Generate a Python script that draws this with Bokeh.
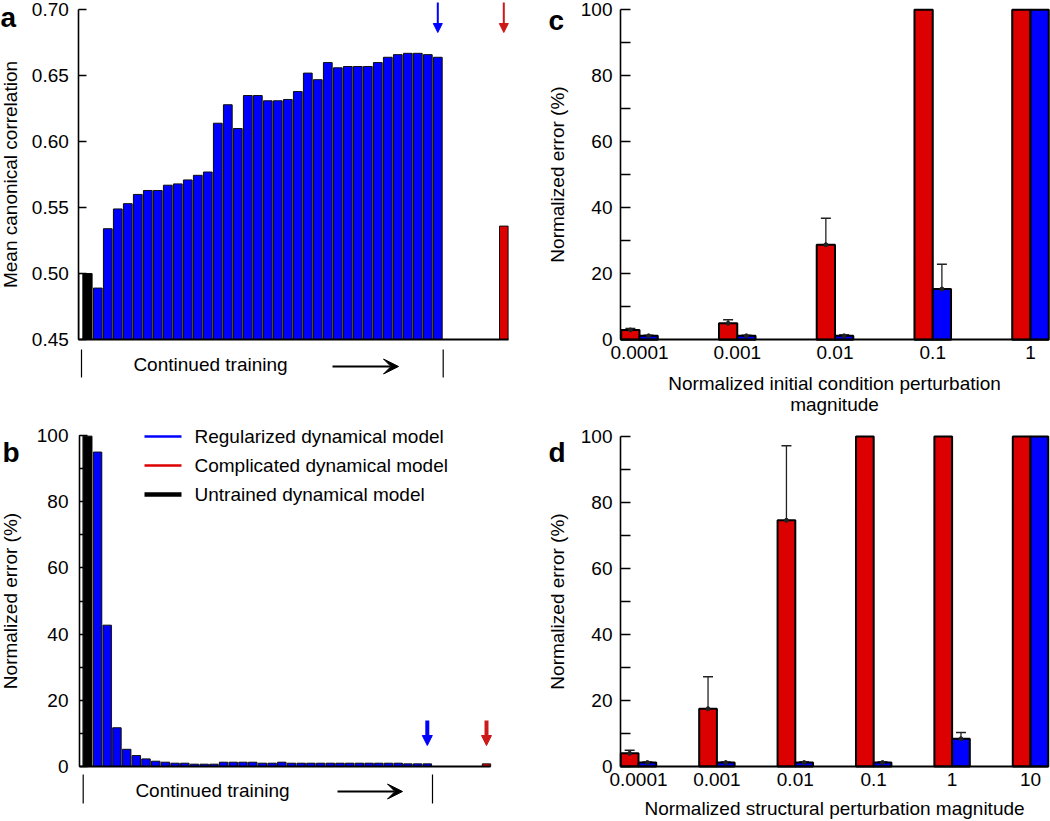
from bokeh.plotting import figure
from bokeh.layouts import row, column
from bokeh.models import (Range1d, FixedTicker, Arrow, NormalHead, VeeHead, Label,
                          ColumnDataSource, Whisker, TeeHead, NumeralTickFormatter)
from bokeh.embed import file_html
from bokeh.resources import INLINE

FONT = "Liberation Sans"
RED = "#dd0000"
BLUE = "#0000ff"
GAP = "#9a9a9a"

# ---------------- data ----------------
# panel a: mean canonical correlation during continued training
a_untrained = [0.500, 0.500]          # outline bar, filled bar
a_regularized = [0.489, 0.534, 0.549, 0.553, 0.560, 0.563, 0.563, 0.567, 0.568,
                 0.571, 0.5745, 0.577, 0.614, 0.628, 0.610, 0.635, 0.635, 0.631,
                 0.631, 0.632, 0.638, 0.652, 0.647, 0.660, 0.656, 0.657, 0.657,
                 0.657, 0.660, 0.664, 0.666, 0.667, 0.667, 0.666, 0.664]
a_complicated = [0.536]
a_ticks = [0.45, 0.50, 0.55, 0.60, 0.65, 0.70]

# panel b: normalized error (%) during continued training
b_untrained = [100.0, 99.8]
b_regularized = [95.0, 42.7, 11.7, 5.2, 3.3, 2.3, 1.6, 1.3, 1.0, 1.0,
                 0.7, 0.7, 0.7, 1.3, 1.3, 1.3, 1.3, 1.0, 1.0, 1.3,
                 1.0, 1.0, 1.0, 1.0, 1.0, 1.0, 1.0, 1.0, 1.0, 1.0,
                 1.0, 1.0, 0.8, 0.8, 0.8]
b_complicated = [0.8]
legend_labels = ["Regularized dynamical model", "Complicated dynamical model",
                 "Untrained dynamical model"]
err_ticks = [0, 20, 40, 60, 80, 100]
err_minor = [10, 30, 50, 70, 90]

# panel c: initial condition perturbation
c_labels = ["0.0001", "0.001", "0.01", "0.1", "1"]
c_complicated = [3.0, 5.0, 28.8, 100.0, 100.0]
c_complicated_err = [0.4, 1.1, 8.0, 0.0, 0.0]
c_regularized = [1.2, 1.2, 1.2, 15.4, 100.0]
c_regularized_err = [0.2, 0.2, 0.3, 7.5, 0.0]

# panel d: structural perturbation
d_labels = ["0.0001", "0.001", "0.01", "0.1", "1", "10"]
d_complicated = [4.0, 17.5, 74.6, 100.0, 100.0, 100.0]
d_complicated_err = [0.9, 9.7, 22.6, 0.0, 0.0, 0.0]
d_regularized = [1.2, 1.2, 1.2, 1.2, 8.4, 100.0]
d_regularized_err = [0.2, 0.2, 0.2, 0.2, 1.9, 0.0]

# ---------------- layout geometry (page pixels) ----------------
W_L, W_R = 530, 520
H_T, H_B = 420, 401


def mapper(ref_px, val, ppu, sign):
    return lambda px: val + sign * (px - ref_px) / ppu


def make_fig(w, h, X, Y, px0, py0):
    p = figure(width=w, height=h,
               x_range=Range1d(X(px0), X(px0 + w)), y_range=Range1d(Y(py0 + h), Y(py0)),
               output_backend="svg", toolbar_location=None,
               min_border_left=0, min_border_right=0, min_border_top=0, min_border_bottom=0)
    if p.title is not None:
        p.title.visible = False
    p.outline_line_color = None
    p.grid.visible = False
    p.background_fill_color = "white"
    p.border_fill_color = "white"
    return p


def style_y(p, loc, ticks, minor, bounds, label, tick_in, lstand, astand):
    ax = p.yaxis[0]
    ax.fixed_location = loc
    ax.ticker = FixedTicker(ticks=ticks, minor_ticks=minor)
    ax.bounds = bounds
    ax.axis_label = label
    ax.axis_label_text_font = FONT
    ax.axis_label_text_font_size = "19px"
    ax.axis_label_text_font_style = "normal"
    ax.axis_label_text_color = "black"
    ax.axis_label_standoff = astand
    ax.major_label_text_font = FONT
    ax.major_label_text_font_size = "19px"
    ax.major_label_text_color = "black"
    ax.major_label_standoff = lstand
    ax.major_tick_in = tick_in
    ax.major_tick_out = 0
    ax.minor_tick_in = tick_in
    ax.minor_tick_out = 0
    ax.axis_line_width = 1.6
    ax.axis_line_color = "black"
    ax.major_tick_line_width = 1.5
    ax.minor_tick_line_width = 1.5
    ax.major_tick_line_color = "black"
    ax.minor_tick_line_color = "black"


def style_x(p, loc, bounds, labels, axis_label, lstand, astand):
    ax = p.xaxis[0]
    ax.fixed_location = loc
    ax.bounds = bounds
    ax.ticker = FixedTicker(ticks=list(range(len(labels))), minor_ticks=[])
    ax.major_label_overrides = {i: lab for i, lab in enumerate(labels)}
    ax.major_tick_in = 0
    ax.major_tick_out = 0
    ax.minor_tick_in = 0
    ax.minor_tick_out = 0
    ax.axis_line_width = 2
    ax.axis_line_color = "black"
    ax.major_label_text_font = FONT
    ax.major_label_text_font_size = "19px"
    ax.major_label_text_color = "black"
    ax.major_label_standoff = lstand
    if axis_label:
        ax.axis_label = axis_label
        ax.axis_label_text_font = FONT
        ax.axis_label_text_font_size = "19px"
        ax.axis_label_text_font_style = "normal"
        ax.axis_label_text_color = "black"
        ax.axis_label_standoff = astand
        ax.axis_label_text_line_height = 1.0


def panel_letter(p, txt, x, y):
    p.add_layout(Label(x=x, y=y, text=txt,
                       text_font=FONT, text_font_size="28px", text_font_style="bold",
                       text_color="black", text_baseline="alphabetic", text_align="left"))


def training_panel(p, X, Y, untrained, regular, complicated, x_red, base,
                   axis_px, end_px, arrow_px, tickline_px, text_px, harrow_px,
                   head_sz, arrow_w, bar_w):
    n = len(regular)
    xs_reg = list(range(2, 2 + n))
    last = xs_reg[-1]
    x_axis = X(axis_px)
    # y axis at fixed location, x axis line as a tickless axis
    # untrained: outline bar and filled bar
    p.quad(left=[x_axis], right=[0.5], top=[untrained[0]], bottom=[base],
           fill_color="white", line_color="black", line_width=1)
    p.vbar(x=[1], top=[untrained[1]], bottom=base, width=bar_w,
           fill_color="black", line_color="black", line_width=1)
    # gray gaps + blue bars
    p.vbar(x=xs_reg, top=regular, bottom=base, width=1.0,
           fill_color=GAP, line_color=None)
    p.vbar(x=xs_reg, top=regular, bottom=base, width=bar_w,
           fill_color=BLUE, line_color="#111111", line_width=1)
    p.vbar(x=[x_red], top=complicated, bottom=base, width=bar_w,
           fill_color=RED, line_color="#111111", line_width=1)
    style_x(p, base, (x_axis, X(end_px)), [], None, 0, 0)
    p.xaxis[0].ticker = FixedTicker(ticks=[], minor_ticks=[])
    # model arrows
    for xx, col in ((last, BLUE), (x_red, "#cc1a1a")):
        p.add_layout(Arrow(x_start=xx, y_start=Y(arrow_px[0]), x_end=xx, y_end=Y(arrow_px[1]),
                           line_color=col, line_width=arrow_w,
                           end=NormalHead(size=head_sz, fill_color=col, line_color=col)))
    # continued-training annotation
    p.segment(x0=[X(tickline_px[0]), X(tickline_px[1])], y0=[Y(tickline_px[2])] * 2,
              x1=[X(tickline_px[0]), X(tickline_px[1])], y1=[Y(tickline_px[3])] * 2,
              line_color="black", line_width=1.2)
    p.add_layout(Label(x=X(text_px[0]), y=Y(text_px[1]), text="Continued training",
                       text_font=FONT, text_font_size="19px", text_color="black",
                       text_align="center", text_baseline="middle"))
    p.add_layout(Arrow(x_start=X(harrow_px[0]), y_start=Y(harrow_px[2]),
                       x_end=X(harrow_px[1]), y_end=Y(harrow_px[2]),
                       line_color="black", line_width=2,
                       end=VeeHead(size=15, fill_color="black", line_color="black")))


# ---------------- panel a ----------------
XA = mapper(87.3, 1, 10.0, 1)
YA = mapper(339.0, 0.45, 1318.8, -1)
pa = make_fig(W_L, H_T, XA, YA, 0, 0)
style_y(pa, XA(78.3), a_ticks, [], (a_ticks[0], a_ticks[-1]),
        "Mean canonical correlation", 8, 10, 8)
pa.yaxis[0].formatter = NumeralTickFormatter(format="0.00")
training_panel(pa, XA, YA, a_untrained, a_regularized, a_complicated, XA(503.3), 0.45,
               78.3, 508.3, (2, 32), (81, 442.7, 349, 377), (210, 364), (332, 398, 366),
               9, 2, 0.86)
panel_letter(pa, "a", XA(0), YA(17))

# ---------------- panel b ----------------
XB = mapper(87.3, 1, 9.7, 1)
YB = mapper(766.0, 0, 3.31, -1)
pb = make_fig(W_L, H_B, XB, YB, 0, H_T)
style_y(pb, XB(79), err_ticks, err_minor, (0, 100), "Normalized error (%)", 8, 11, 13)
training_panel(pb, XB, YB, b_untrained, b_regularized, b_complicated, XB(486), 0,
               79, 490, (720, 745), (82.7, 432, 774, 803), (212, 790), (337, 402, 791),
               10, 4, 0.86)
panel_letter(pb, "b", XB(2), YB(452))
# legend (line swatches and labels)
leg_cols = [BLUE, RED, "black"]
leg_widths = [2.5, 2.5, 4.5]
leg_rows_px = [436, 465, 494]
for lab, col, lw, ry in zip(legend_labels, leg_cols, leg_widths, leg_rows_px):
    pb.line(x=[XB(144), XB(181)], y=[YB(ry), YB(ry)], line_color=col, line_width=lw)
    pb.add_layout(Label(x=XB(194), y=YB(ry), text=lab, text_font=FONT,
                        text_font_size="19px", text_color="black",
                        text_align="left", text_baseline="middle"))


# ---------------- panels c and d ----------------
def perturb_panel(p, comp, comp_err, reg, reg_err, w):
    n = len(comp)
    xr = [i - w / 2 for i in range(n)]
    xb = [i + w / 2 for i in range(n)]
    p.vbar(x=xr, top=comp, bottom=0, width=w, fill_color=RED, line_color="black", line_width=2)
    p.vbar(x=xb, top=reg, bottom=0, width=w, fill_color=BLUE, line_color="black", line_width=2)
    ex, ey, eu, el = [], [], [], []
    for xs, vals, errs in ((xr, comp, comp_err), (xb, reg, reg_err)):
        for xx, v, e in zip(xs, vals, errs):
            if e > 0:
                ex.append(xx); ey.append(v); eu.append(v + e); el.append(v - e)
    src = ColumnDataSource(dict(x=ex, y=ey, upper=eu, lower=el))
    p.add_layout(Whisker(source=src, base="x", upper="upper", lower="lower",
                         line_color="#222222", line_width=1.3,
                         upper_head=TeeHead(size=10, line_color="#222222", line_width=1.5),
                         lower_head=TeeHead(size=10, line_color="#222222", line_width=1.5)))
    p.scatter(x="x", y="y", source=src, size=4, color="#222222")


XC = mapper(639.0, 0, 97.75, 1)
YC = mapper(339.3, 0, 3.30, -1)
pc = make_fig(W_R, H_T, XC, YC, W_L, 0)
style_y(pc, XC(620), err_ticks, err_minor, (0, 100), "Normalized error (%)", 10, 8, 10)
style_x(pc, 0, (XC(620), XC(1048)), c_labels,
        "Normalized initial condition perturbation\nmagnitude", 6, 11)
perturb_panel(pc, c_complicated, c_complicated_err, c_regularized, c_regularized_err, 0.187)
panel_letter(pc, "c", XC(548), YC(20))

XD = mapper(638.0, 0, 78.4, 1)
YD = mapper(766.0, 0, 3.30, -1)
pd_ = make_fig(W_R, H_B, XD, YD, W_L, H_T)
style_y(pd_, XD(620), err_ticks, err_minor, (0, 100), "Normalized error (%)", 10, 8, 10)
style_x(pd_, 0, (XD(620), XD(1048)), d_labels,
        "Normalized structural perturbation magnitude", 6, 9)
perturb_panel(pd_, d_complicated, d_complicated_err, d_regularized, d_regularized_err, 0.226)
panel_letter(pd_, "d", XD(548), YD(452))

layout = column(row(pa, pc), row(pb, pd_))
open("out.html", "w").write(file_html(layout, INLINE))
